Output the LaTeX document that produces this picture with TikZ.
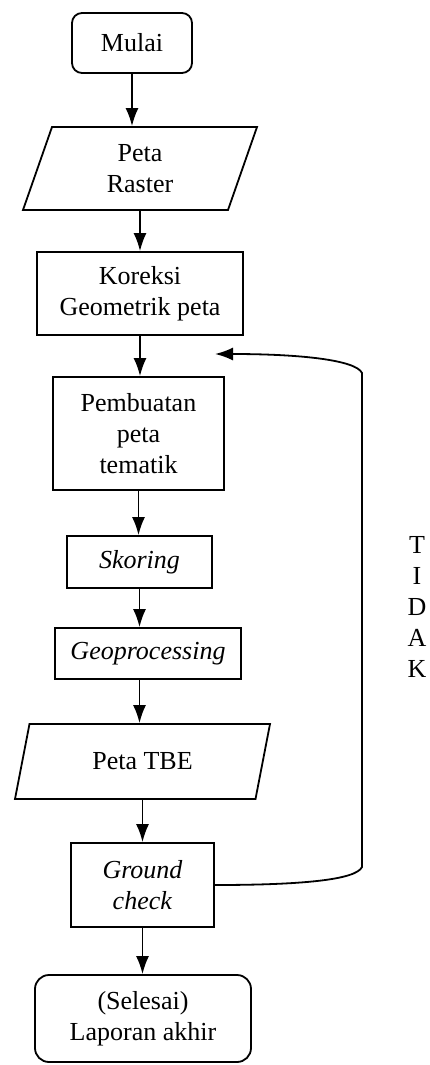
\documentclass[tikz,border=0pt]{standalone}
\usepackage{fontspec}
\setmainfont{Liberation Serif}
\usetikzlibrary{shapes.geometric,arrows.meta}

\begin{document}
\begin{tikzpicture}[x=0.5pt,y=-0.5pt,
  font=\fontsize{13pt}{15.5pt}\selectfont,
  >={Latex[length=9pt,width=6.5pt]},
  kotak/.style={draw,line width=0.9pt,align=center,inner sep=0pt},
  ujung/.style={kotak,rounded corners=5pt},
  data/.style={kotak,trapezium,trapezium stretches body},
  panah/.style={->,line width=0.9pt}]
\useasboundingbox (0,0) rectangle (429,1065);
% langkah-langkah
\node [ujung,minimum width=60pt,minimum height=30pt] (mulai) at (132,43) {Mulai};
\node [data,trapezium left angle=59,trapezium right angle=121,minimum width=117pt,minimum height=41.5pt] (raster) at (140,168.5) {Peta\\Raster};
\node [kotak,minimum width=103pt,minimum height=41.5pt] (koreksi) at (140,293.5) {Koreksi\\Geometrik peta};
\node [kotak,minimum width=85.5pt,minimum height=56.5pt] (tematik) at (138.5,433.5) {Pembuatan\\peta\\tematik};
\node [kotak,minimum width=72.5pt,minimum height=26pt] (skoring) at (139.5,562) {\textit{Skoring}};
\node [kotak,minimum width=93pt,minimum height=25.5pt] (geo) at (148,653.5) {\textit{Geoprocessing}};
\node [data,trapezium left angle=50,trapezium right angle=130,minimum width=127.5pt,minimum height=37.5pt] (tbe) at (142.5,761.5) {Peta TBE};
\node [kotak,minimum width=71.5pt,minimum height=42pt] (ground) at (142.5,885) {\textit{Ground}\\\textit{check}};
\node [ujung,rounded corners=7pt,minimum width=108pt,minimum height=43.5pt] (selesai) at (143,1018.5) {(Selesai)\\Laporan akhir};
\node [align=center] (tidak) at (417,607) {T\\I\\D\\A\\K};
% panah
\draw [panah] (mulai.south) -- (mulai.south |- raster.north);
\draw [panah] (raster.south) -- (raster.south |- koreksi.north);
\draw [panah] (koreksi.south) -- (koreksi.south |- tematik.north);
\draw [panah] (tematik.south) -- (tematik.south |- skoring.north);
\draw [panah] (skoring.south) -- (skoring.south |- geo.north);
\draw [panah] (skoring.south |- geo.south) -- (skoring.south |- tbe.north);
\draw [panah] (tbe.south) -- (tbe.south |- ground.north);
\draw [panah] (ground.south) -- (ground.south |- selesai.north);
% kembali (tidak)
\coordinate (balik) at (215,354);
\draw [panah] (ground.east) .. controls (300,885) and (356,880) .. (362,867)
  -- (362,373) .. controls (356,360) and (300,354) .. (balik);
\end{tikzpicture}
\end{document}
